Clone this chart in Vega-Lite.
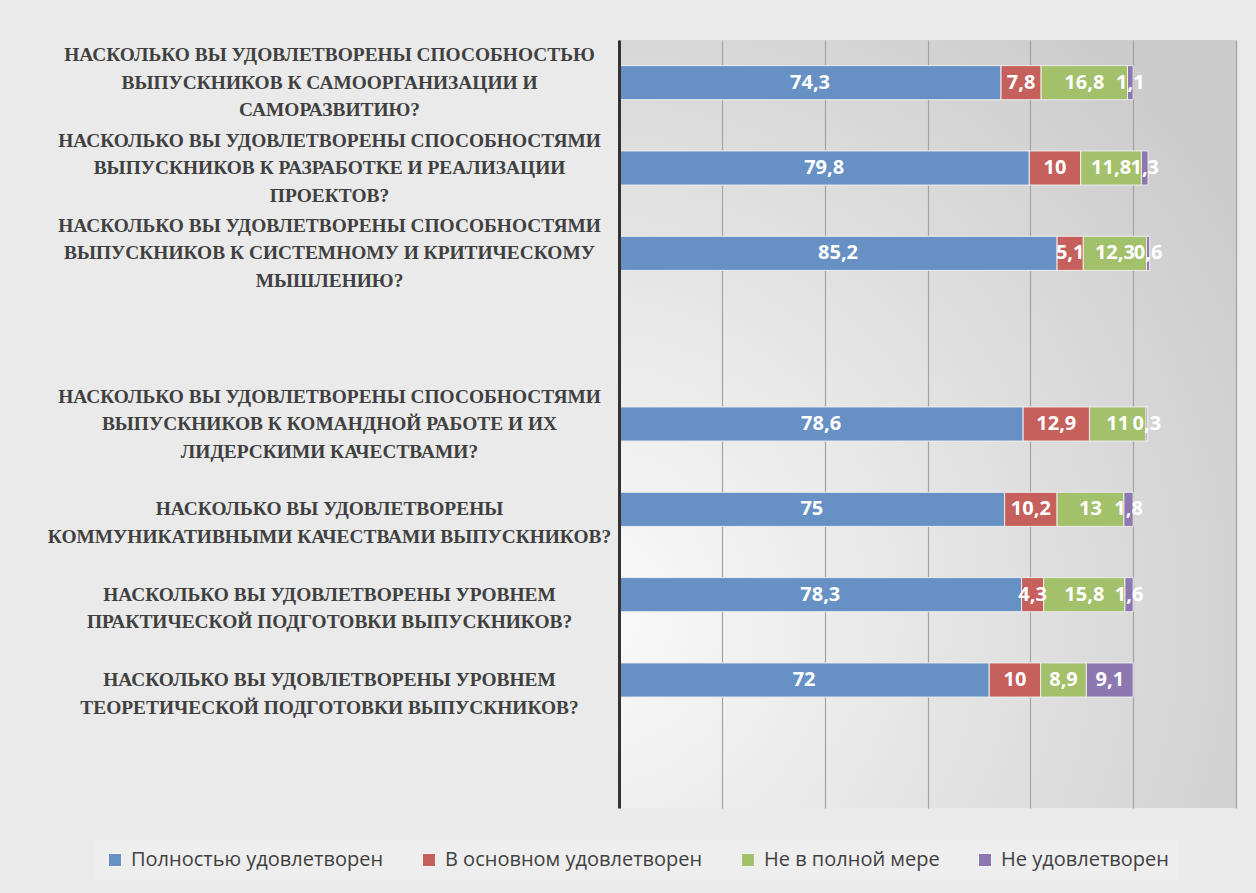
{
  "$schema": "https://vega.github.io/schema/vega-lite/v6.json",
  "width": 617,
  "height": 768,
  "autosize": {"type": "none"},
  "padding": {"left": 619, "top": 40, "right": 20, "bottom": 85},
  "background": "#EAEAEA",
  "datasets": {
    "survey": [
      {"q": "Насколько Вы удовлетворены способностью|выпускников к самоорганизации и|саморазвитию?", "s": "Полностью удовлетворен", "k": 1, "v": 74.3},
      {"q": "Насколько Вы удовлетворены способностью|выпускников к самоорганизации и|саморазвитию?", "s": "В основном удовлетворен", "k": 2, "v": 7.8},
      {"q": "Насколько Вы удовлетворены способностью|выпускников к самоорганизации и|саморазвитию?", "s": "Не в полной мере", "k": 3, "v": 16.8},
      {"q": "Насколько Вы удовлетворены способностью|выпускников к самоорганизации и|саморазвитию?", "s": "Не удовлетворен", "k": 4, "v": 1.1},
      {"q": "Насколько Вы удовлетворены способностями|выпускников к разработке и реализации|проектов?", "s": "Полностью удовлетворен", "k": 1, "v": 79.8},
      {"q": "Насколько Вы удовлетворены способностями|выпускников к разработке и реализации|проектов?", "s": "В основном удовлетворен", "k": 2, "v": 10},
      {"q": "Насколько Вы удовлетворены способностями|выпускников к разработке и реализации|проектов?", "s": "Не в полной мере", "k": 3, "v": 11.8},
      {"q": "Насколько Вы удовлетворены способностями|выпускников к разработке и реализации|проектов?", "s": "Не удовлетворен", "k": 4, "v": 1.3},
      {"q": "Насколько Вы удовлетворены способностями|выпускников к системному и критическому|мышлению?", "s": "Полностью удовлетворен", "k": 1, "v": 85.2},
      {"q": "Насколько Вы удовлетворены способностями|выпускников к системному и критическому|мышлению?", "s": "В основном удовлетворен", "k": 2, "v": 5.1},
      {"q": "Насколько Вы удовлетворены способностями|выпускников к системному и критическому|мышлению?", "s": "Не в полной мере", "k": 3, "v": 12.3},
      {"q": "Насколько Вы удовлетворены способностями|выпускников к системному и критическому|мышлению?", "s": "Не удовлетворен", "k": 4, "v": 0.6},
      {"q": "Насколько Вы удовлетворены способностями|выпускников к командной работе и их|лидерскими качествами?", "s": "Полностью удовлетворен", "k": 1, "v": 78.6},
      {"q": "Насколько Вы удовлетворены способностями|выпускников к командной работе и их|лидерскими качествами?", "s": "В основном удовлетворен", "k": 2, "v": 12.9},
      {"q": "Насколько Вы удовлетворены способностями|выпускников к командной работе и их|лидерскими качествами?", "s": "Не в полной мере", "k": 3, "v": 11},
      {"q": "Насколько Вы удовлетворены способностями|выпускников к командной работе и их|лидерскими качествами?", "s": "Не удовлетворен", "k": 4, "v": 0.3},
      {"q": "Насколько Вы удовлетворены|коммуникативными качествами выпускников?", "s": "Полностью удовлетворен", "k": 1, "v": 75},
      {"q": "Насколько Вы удовлетворены|коммуникативными качествами выпускников?", "s": "В основном удовлетворен", "k": 2, "v": 10.2},
      {"q": "Насколько Вы удовлетворены|коммуникативными качествами выпускников?", "s": "Не в полной мере", "k": 3, "v": 13},
      {"q": "Насколько Вы удовлетворены|коммуникативными качествами выпускников?", "s": "Не удовлетворен", "k": 4, "v": 1.8},
      {"q": "Насколько Вы удовлетворены уровнем|практической подготовки выпускников?", "s": "Полностью удовлетворен", "k": 1, "v": 78.3},
      {"q": "Насколько Вы удовлетворены уровнем|практической подготовки выпускников?", "s": "В основном удовлетворен", "k": 2, "v": 4.3},
      {"q": "Насколько Вы удовлетворены уровнем|практической подготовки выпускников?", "s": "Не в полной мере", "k": 3, "v": 15.8},
      {"q": "Насколько Вы удовлетворены уровнем|практической подготовки выпускников?", "s": "Не удовлетворен", "k": 4, "v": 1.6},
      {"q": "Насколько Вы удовлетворены уровнем|теоретической подготовки выпускников?", "s": "Полностью удовлетворен", "k": 1, "v": 72},
      {"q": "Насколько Вы удовлетворены уровнем|теоретической подготовки выпускников?", "s": "В основном удовлетворен", "k": 2, "v": 10},
      {"q": "Насколько Вы удовлетворены уровнем|теоретической подготовки выпускников?", "s": "Не в полной мере", "k": 3, "v": 8.9},
      {"q": "Насколько Вы удовлетворены уровнем|теоретической подготовки выпускников?", "s": "Не удовлетворен", "k": 4, "v": 9.1}
    ]
  },
  "data": {"name": "survey"},
  "encoding": {
    "y": {
      "field": "q",
      "type": "nominal",
      "scale": {
        "domain": [
          "Насколько Вы удовлетворены способностью|выпускников к самоорганизации и|саморазвитию?",
          "Насколько Вы удовлетворены способностями|выпускников к разработке и реализации|проектов?",
          "Насколько Вы удовлетворены способностями|выпускников к системному и критическому|мышлению?",
          "_a",
          "Насколько Вы удовлетворены способностями|выпускников к командной работе и их|лидерскими качествами?",
          "Насколько Вы удовлетворены|коммуникативными качествами выпускников?",
          "Насколько Вы удовлетворены уровнем|практической подготовки выпускников?",
          "Насколько Вы удовлетворены уровнем|теоретической подготовки выпускников?",
          "_b"
        ],
        "paddingInner": 0.6,
        "paddingOuter": 0.3
      },
      "axis": {
        "title": null,
        "ticks": false,
        "domainColor": "#333333",
        "domainWidth": 3,
        "zindex": 2,
        "labelAlign": "center",
        "labelBaseline": "middle",
        "labelPadding": 290,
        "labelOffset": -27.5,
        "labelFont": "Liberation Serif",
        "labelFontWeight": "bold",
        "labelFontSize": 19.4,
        "labelColor": "#404040",
        "labelLineHeight": 27.5,
        "labelLimit": 800,
        "labelOverlap": false,
        "labelBound": false,
        "labelExpr": "indexof(datum.label, '_') == 0 ? '' : (length(split(datum.label, '|')) == 2 ? split(' |' + upper(datum.label), '|') : split(upper(datum.label), '|'))"
      }
    }
  },
  "layer": [
    {
      "mark": {"type": "bar", "stroke": "#EDEDED", "strokeWidth": 1},
      "encoding": {
        "x": {
          "field": "v",
          "type": "quantitative",
          "stack": "zero",
          "scale": {"domain": [0, 120], "nice": false},
          "axis": {
            "title": null,
            "labels": false,
            "ticks": false,
            "domain": false,
            "grid": true,
            "gridColor": "#A3A3A3",
            "gridWidth": 1.2,
            "values": [0, 20, 40, 60, 80, 100, 120]
          }
        },
        "color": {
          "field": "s",
          "type": "nominal",
          "scale": {
            "domain": ["Полностью удовлетворен", "В основном удовлетворен", "Не в полной мере", "Не удовлетворен"],
            "range": ["#6791C5", "#C6605D", "#A3C06B", "#8D77B1"]
          },
          "legend": {
            "title": null,
            "orient": "none",
            "legendX": -524,
            "legendY": 800,
            "direction": "horizontal",
            "columns": 4,
            "symbolType": "square",
            "symbolSize": 169,
            "symbolStrokeWidth": 1,
            "symbolStrokeColor": "#F4F4F4",
            "labelFont": "Open Sans",
            "labelFontSize": 20,
            "labelColor": "#404040",
            "labelOffset": 6,
            "labelLimit": 400,
            "columnPadding": 35,
            "fillColor": "#EEEEEE",
            "padding": 10
          }
        },
        "order": {"field": "k", "type": "quantitative"}
      }
    },
    {
      "mark": {"type": "text", "color": "white", "font": "Open Sans", "fontWeight": "bold", "fontSize": 20, "baseline": "middle", "align": "center"},
      "encoding": {
        "x": {"field": "v", "type": "quantitative", "stack": "zero", "bandPosition": 0.5},
        "text": {"field": "v", "type": "quantitative", "format": ".1~f"},
        "order": {"field": "k", "type": "quantitative"}
      }
    }
  ],
  "config": {
    "locale": {"number": {"decimal": ",", "thousands": " ", "grouping": [3], "currency": ["", ""]}},
    "view": {
      "stroke": null,
      "fill": {"gradient": "radial", "x1": 0.05, "y1": 0.75, "r1": 0, "x2": 0.05, "y2": 0.75, "r2": 1, "stops": [{"offset": 0, "color": "#FBFBFB"}, {"offset": 1, "color": "#CCCCCC"}]}
    }
  }
}
